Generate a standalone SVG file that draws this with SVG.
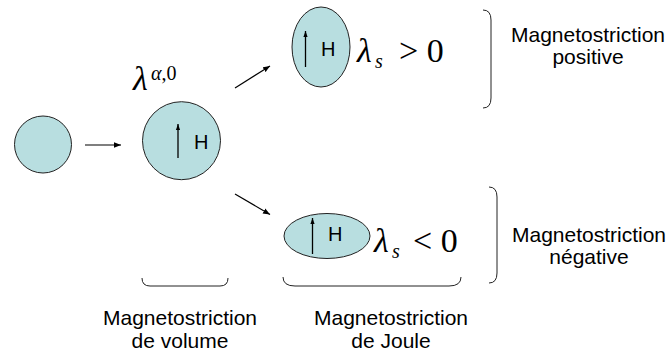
<svg xmlns="http://www.w3.org/2000/svg" width="669" height="355" viewBox="0 0 669 355">
<defs>
<marker id="ah" viewBox="0 0 10 10" refX="10" refY="5" markerWidth="7" markerHeight="7" orient="auto" markerUnits="userSpaceOnUse">
<path d="M0,1 L10,5 L0,9 z" fill="#000"/>
</marker>
<marker id="ahs" viewBox="0 0 10 10" refX="10" refY="5" markerWidth="6" markerHeight="7" orient="auto" markerUnits="userSpaceOnUse">
<path d="M0,1.5 L10,5 L0,8.5 z" fill="#000"/>
</marker>
</defs>
<style>
.node{fill:#B8DEE0;stroke:#222;stroke-width:1}
.h{font-family:"Liberation Sans",Arial,sans-serif;font-size:20px;fill:#000}
.lbl{font-family:"Liberation Sans",Arial,sans-serif;font-size:21px;fill:#000;text-anchor:middle}
.math{font-family:"Liberation Serif","Times New Roman",serif;fill:#000}
.conn{stroke:#000;stroke-width:1.2;fill:none}
.field{stroke:#000;stroke-width:1.3;fill:none}
.brk{stroke:#222;stroke-width:1;fill:none}
</style>
<g id="connectors">
<line class="conn" x1="85" y1="145" x2="121" y2="145" marker-end="url(#ah)"/>
<line class="conn" x1="235" y1="88" x2="270" y2="66" marker-end="url(#ah)"/>
<line class="conn" x1="235" y1="194" x2="270" y2="214.5" marker-end="url(#ah)"/>
</g>
<g id="sphere">
<circle class="node" cx="43" cy="144.5" r="28.5"/>
</g>
<g id="volume">
<circle class="node" cx="181.5" cy="140.7" r="39"/>
<line class="field" x1="178" y1="158" x2="178" y2="124" marker-end="url(#ahs)"/>
<text class="h" x="194" y="149">H</text>
<text class="math" x="133" y="90" font-size="34" font-style="italic">λ</text>
<text class="math" x="151" y="80" font-size="20"><tspan font-style="italic">α</tspan>,0</text>
</g>
<g id="positive">
<ellipse class="node" cx="321" cy="47" rx="29" ry="40"/>
<line class="field" x1="305.5" y1="67" x2="305.5" y2="31" marker-end="url(#ahs)"/>
<text class="h" x="321" y="56">H</text>
<text class="math" x="357" y="62" font-size="34" font-style="italic">λ</text>
<text class="math" x="375" y="68" font-size="20" font-style="italic">s</text>
<text class="math" x="399" y="62" font-size="34">&gt; 0</text>
</g>
<g id="negative">
<ellipse class="node" cx="327" cy="236" rx="43" ry="22.5"/>
<line class="field" x1="312.5" y1="254" x2="312.5" y2="218" marker-end="url(#ahs)"/>
<text class="h" x="328" y="241">H</text>
<text class="math" x="374" y="252" font-size="34" font-style="italic">λ</text>
<text class="math" x="392" y="258" font-size="20" font-style="italic">s</text>
<text class="math" x="413" y="252" font-size="34">&lt; 0</text>
</g>
<g id="bracket-positive">
<path class="brk" d="M483,10 Q491,10 491,20 L491,98 Q491,108 483,108"/>
<text class="lbl" x="588" y="42">Magnetostriction</text>
<text class="lbl" x="588" y="64">positive</text>
</g>
<g id="bracket-negative">
<path class="brk" d="M489,187 Q497,187 497,197 L497,273 Q497,283 489,283"/>
<text class="lbl" x="589" y="242">Magnetostriction</text>
<text class="lbl" x="589" y="264">négative</text>
</g>
<g id="bracket-volume">
<path class="brk" d="M142,278 Q142,286 150,286 L220,286 Q228,286 228,278"/>
<text class="lbl" x="180" y="325">Magnetostriction</text>
<text class="lbl" x="180" y="348">de volume</text>
</g>
<g id="bracket-joule">
<path class="brk" d="M283,277 Q283,286 295,286 L449,286 Q461,286 461,277"/>
<text class="lbl" x="391" y="325">Magnetostriction</text>
<text class="lbl" x="391" y="348">de Joule</text>
</g>
</svg>
